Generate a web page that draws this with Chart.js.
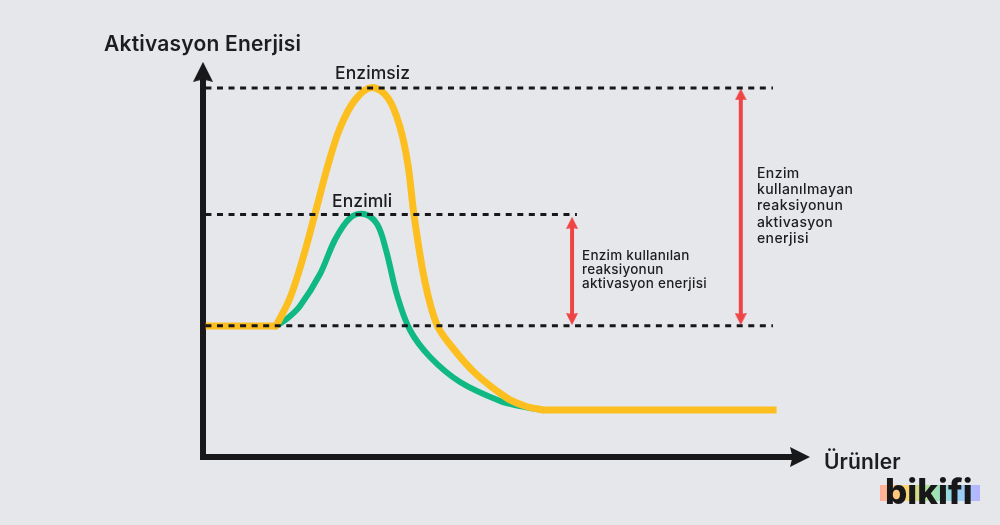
<!DOCTYPE html>
<html>
<head>
<meta charset="utf-8">
<style>
  html, body { margin: 0; padding: 0; background: #e5e7eb; }
  canvas { display: block; }
</style>
<script src="https://cdn.jsdelivr.net/npm/chart.js@4"></script>
</head>
<body>
<canvas id="chart" width="1000" height="525"></canvas>
<script>
// ---------------------------------------------------------------------------
// Values (both axes run 0-100)
// ---------------------------------------------------------------------------

const enzimsizX = [12.03, 14.33, 16.47, 18.62, 20.59, 22.57, 25.04, 27.84, 30.48, 32.45, 33.77, 34.76, 36.57, 38.55, 41.02, 44.81, 50.08, 53.05, 56.01];
const enzimsizY = [33.16, 40.25, 50.38, 62.53, 73.92, 83.29, 90.38, 93.54, 90.89, 83.54, 73.92, 61.27, 44.30, 33.42, 27.85, 21.27, 14.94, 12.90, 11.90];

const enzimliX = [12.03, 13.84, 15.98, 19.28, 21.75, 24.22, 26.52, 28.67, 30.15, 31.96, 34.10, 37.40, 42.34, 48.93, 52.20, 56.01];
const enzimliY = [33.16, 35.00, 38.23, 46.33, 55.00, 60.51, 61.52, 58.99, 52.41, 41.01, 32.15, 25.32, 18.99, 14.18, 12.90, 11.90];

const startX = [0.45, 12.03];
const startY = [33.16, 33.16];
const endX = [56.01, 94.5];
const endY = [11.90, 11.90];

const levelEnzimsiz = 93.4;
const levelEnzimli = 61.4;
const levelStart = 33.2;
const levelEndLong = 93.9;
const levelEndShort = 61.6;

const axisEndX = 98.35;
const axisEndY = 97.5;

const arrowEnzimliX = 60.8;
const arrowEnzimliY = [34.9, 59.3];
const arrowEnzimsizX = 88.6;
const arrowEnzimsizY = [34.9, 91.8];

const yTitle = 'Aktivasyon Enerjisi';
const xTitle = 'Ürünler';
const curveNames = ['Enzimsiz', 'Enzimli'];
const noteEnzimli = ['Enzim kullanılan', 'reaksiyonun', 'aktivasyon enerjisi'];
const noteEnzimsiz = ['Enzim', 'kullanılmayan', 'reaksiyonun', 'aktivasyon', 'enerjisi'];
const brand = 'bikifi';
const brandColors = ['#ffae9e', '#ffd56b', '#a5e5a0', '#93d5f2', '#b8b3ff'];

// ---------------------------------------------------------------------------
// Helpers
// ---------------------------------------------------------------------------

function toPoints(xs, ys) {
  return xs.map((x, i) => ({ x: x, y: ys[i] }));
}

// Arrow head used as a point style, pointing up with a small notch at the back
function arrowHead(size, notch, color) {
  const head = document.createElement('canvas');
  head.width = size;
  head.height = size;
  const ctx = head.getContext('2d');
  ctx.fillStyle = color;
  ctx.beginPath();
  ctx.moveTo(size / 2, 0);
  ctx.lineTo(size, size);
  ctx.lineTo(size / 2, size - notch);
  ctx.lineTo(0, size);
  ctx.closePath();
  ctx.fill();
  return head;
}

function dashedLevel(level, end) {
  return {
    data: [{ x: 0.4, y: level }, { x: end, y: level }],
    borderColor: '#18181b',
    borderWidth: 3,
    borderDash: [6, 5.55],
    pointRadius: 0,
    order: 0
  };
}

function redArrow(x, ys) {
  return {
    data: ys.map(y => ({ x: x, y: y })),
    borderColor: '#ef4444',
    borderWidth: 4,
    pointStyle: arrowHead(12, 1, '#ef4444'),
    pointRadius: 6,
    pointRotation: [180, 0],
    order: 1
  };
}

function curve(xs, ys, color, width, order) {
  return {
    data: toPoints(xs, ys),
    borderColor: color,
    borderWidth: width,
    borderCapStyle: 'round',
    tension: 0.35,
    pointRadius: 0,
    order: order
  };
}

function flat(xs, ys, color, order) {
  return {
    data: toPoints(xs, ys),
    borderColor: color,
    borderWidth: 7,
    pointRadius: 0,
    order: order
  };
}

// ---------------------------------------------------------------------------
// Texts and the logo are drawn on top of the chart
// ---------------------------------------------------------------------------

const textPlugin = {
  id: 'texts',
  afterDraw(chart) {
    const ctx = chart.ctx;
    ctx.save();
    ctx.fillStyle = '#1d1d20';
    ctx.textAlign = 'left';
    ctx.textBaseline = 'alphabetic';

    ctx.font = '600 21px Inter';
    ctx.letterSpacing = '0.2px';
    ctx.fillText(yTitle, 104, 51);
    ctx.letterSpacing = '0.15px';
    ctx.fillText(xTitle, 824, 469);

    ctx.font = '500 17.5px Inter';
    ctx.letterSpacing = '0.1px';
    ctx.fillText(curveNames[0], 335, 79);
    ctx.fillText(curveNames[1], 332, 207);

    ctx.font = '500 13.5px Inter';
    ctx.letterSpacing = '0.25px';
    noteEnzimli.forEach((line, i) => ctx.fillText(line, 582, 260 + i * 14));
    ctx.font = '500 14px Inter';
    ctx.letterSpacing = '0.4px';
    noteEnzimsiz.forEach((line, i) => ctx.fillText(line, 757, 178 + i * 16.2));

    const bar = ctx.createLinearGradient(880, 0, 980, 0);
    brandColors.forEach((color, i) => bar.addColorStop(i / (brandColors.length - 1), color));
    ctx.fillStyle = bar;
    ctx.fillRect(880, 485, 100, 16);
    ctx.fillStyle = '#18181b';
    ctx.font = '800 35px Inter';
    ctx.letterSpacing = '0px';
    ctx.fillText(brand, 885, 504);
    ctx.restore();
  }
};

// ---------------------------------------------------------------------------
// Chart
// ---------------------------------------------------------------------------

new Chart(document.getElementById('chart'), {
  type: 'scatter',
  data: {
    datasets: [
      dashedLevel(levelEnzimsiz, levelEndLong),
      dashedLevel(levelEnzimli, levelEndShort),
      dashedLevel(levelStart, levelEndLong),
      redArrow(arrowEnzimliX, arrowEnzimliY),
      redArrow(arrowEnzimsizX, arrowEnzimsizY),
      flat(startX, startY, '#fcbf1f', 2),
      curve(enzimsizX, enzimsizY, '#fcbf1f', 7, 2),
      flat(endX, endY, '#fcbf1f', 2),
      curve(enzimliX, enzimliY, '#10b981', 6, 3),
      {
        // Both axes with their arrow heads
        data: [{ x: 0, y: axisEndY }, { x: 0, y: 0 }, { x: axisEndX, y: 0 }],
        borderColor: '#18181b',
        borderWidth: 6,
        pointStyle: arrowHead(20, 2.5, '#18181b'),
        pointRadius: [10, 0, 10],
        pointRotation: [0, 0, 90],
        order: 4
      }
    ]
  },
  options: {
    responsive: false,
    animation: false,
    showLine: true,
    clip: false,
    layout: { padding: { left: 203, right: 190, top: 62, bottom: 68 } },
    scales: {
      x: { type: 'linear', min: 0, max: 100, display: false },
      y: { type: 'linear', min: 0, max: 100, display: false }
    },
    plugins: {
      legend: { display: false },
      tooltip: { enabled: false }
    }
  },
  plugins: [textPlugin]
});
</script>
</body>
</html>
